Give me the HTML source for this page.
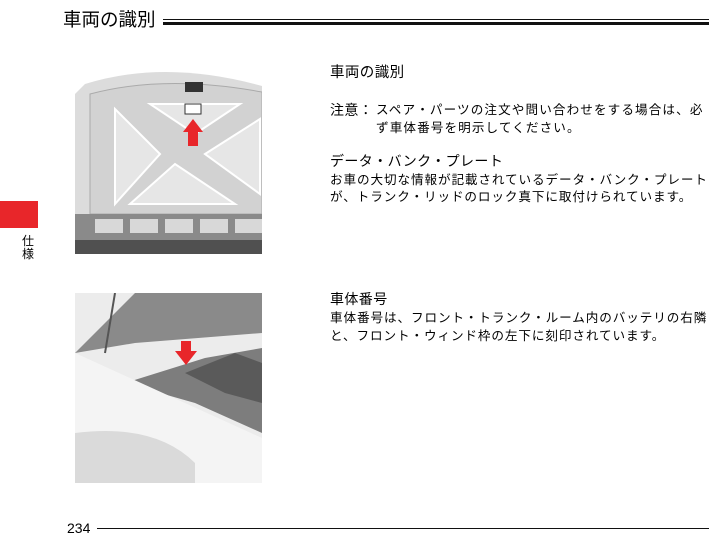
<!DOCTYPE html>
<html><head><meta charset="utf-8"><style>
body{margin:0;width:728px;height:545px;background:#fff;position:relative;overflow:hidden;font-family:"Liberation Sans","Noto Sans CJK JP",sans-serif;color:#000}
.t{position:absolute;white-space:nowrap;line-height:1}
.b{font-size:12.6px;letter-spacing:0.9px}
.h{font-size:14px;letter-spacing:0.4px}
</style></head><body>
<div class="t" style="left:63px;top:11px;font-size:18.5px">車両の識別</div>
<div style="position:absolute;left:163px;top:19px;width:546px;height:1px;background:#111"></div>
<div style="position:absolute;left:163px;top:22px;width:546px;height:3px;background:#111"></div>

<div style="position:absolute;left:0;top:201px;width:38px;height:27px;background:#e8262a"></div>
<div class="t" style="left:22px;top:235px;font-size:12px;line-height:13px;white-space:normal;width:13px">仕様</div>

<svg style="position:absolute;left:75px;top:64px" width="187" height="190" viewBox="0 0 187 190">
<rect width="187" height="190" fill="#fff"/>
<path d="M10 20 Q90 -5 187 22 L187 190 L0 190 L0 30Z" fill="#dcdcdc"/>
<path d="M15 30 Q90 10 187 28 L187 150 L15 150Z" fill="#d2d2d2" stroke="#aaa"/>
<path d="M40 45 L85 90 L40 140Z M130 90 L185 55 L185 130Z M55 140 L100 100 L160 140Z M75 40 L165 40 L120 70Z" fill="#e6e6e6" stroke="#fff" stroke-width="2"/>
<rect x="110" y="40" width="16" height="10" fill="#fff" stroke="#333"/>
<path d="M108 68 L118 55 L128 68 L123 68 L123 82 L113 82 L113 68Z" fill="#e8262a"/>
<rect x="0" y="150" width="187" height="40" fill="#8a8a8a"/>
<g fill="#d8d8d8"><rect x="20" y="155" width="28" height="14"/><rect x="55" y="155" width="28" height="14"/><rect x="90" y="155" width="28" height="14"/><rect x="125" y="155" width="28" height="14"/><rect x="160" y="155" width="27" height="14"/></g>
<rect x="0" y="176" width="187" height="14" fill="#505050"/>
<rect x="110" y="18" width="18" height="10" fill="#333"/>
</svg>

<svg style="position:absolute;left:75px;top:293px" width="187" height="190" viewBox="0 0 187 190">
<rect width="187" height="190" fill="#ececec"/>
<path d="M0 60 L60 0 L187 0 L187 40 L60 50Z" fill="#8a8a8a"/>
<path d="M50 90 L130 65 L187 55 L187 140 L120 110Z" fill="#7d7d7d"/>
<path d="M110 80 L160 60 L187 70 L187 110 L150 100Z" fill="#5a5a5a"/>
<path d="M0 60 L187 145 L187 190 L0 190Z" fill="#f4f4f4"/>
<path d="M0 140 Q80 130 120 170 L120 190 L0 190Z" fill="#dadada"/>
<path d="M106 48 L116 48 L116 58 L122 58 L111 72 L100 58 L106 58Z" fill="#e8262a"/>
<line x1="40" y1="0" x2="30" y2="60" stroke="#555" stroke-width="2"/>
</svg>

<div class="t h" style="left:330px;top:66px;font-size:14.5px">車両の識別</div>
<div class="t h" style="left:330px;top:103px">注意：</div>
<div class="t b" style="left:376px;top:104px;letter-spacing:1.1px">スペア・パーツの注文や問い合わせをする場合は、必</div>
<div class="t b" style="left:376px;top:122px;letter-spacing:1.1px">ず車体番号を明示してください。</div>
<div class="t h" style="left:330px;top:154px">データ・バンク・プレート</div>
<div class="t b" style="left:330px;top:174px">お車の大切な情報が記載されているデータ・バンク・プレート</div>
<div class="t b" style="left:330px;top:191px">が、トランク・リッドのロック真下に取付けられています。</div>

<div class="t h" style="left:330px;top:292px">車体番号</div>
<div class="t b" style="left:330px;top:312px">車体番号は、フロント・トランク・ルーム内のバッテリの右隣</div>
<div class="t b" style="left:330px;top:330px">と、フロント・ウィンド枠の左下に刻印されています。</div>

<div class="t" style="left:67px;top:521px;font-size:14px">234</div>
<div style="position:absolute;left:97px;top:528px;width:612px;height:1px;background:#111"></div>
</body></html>
